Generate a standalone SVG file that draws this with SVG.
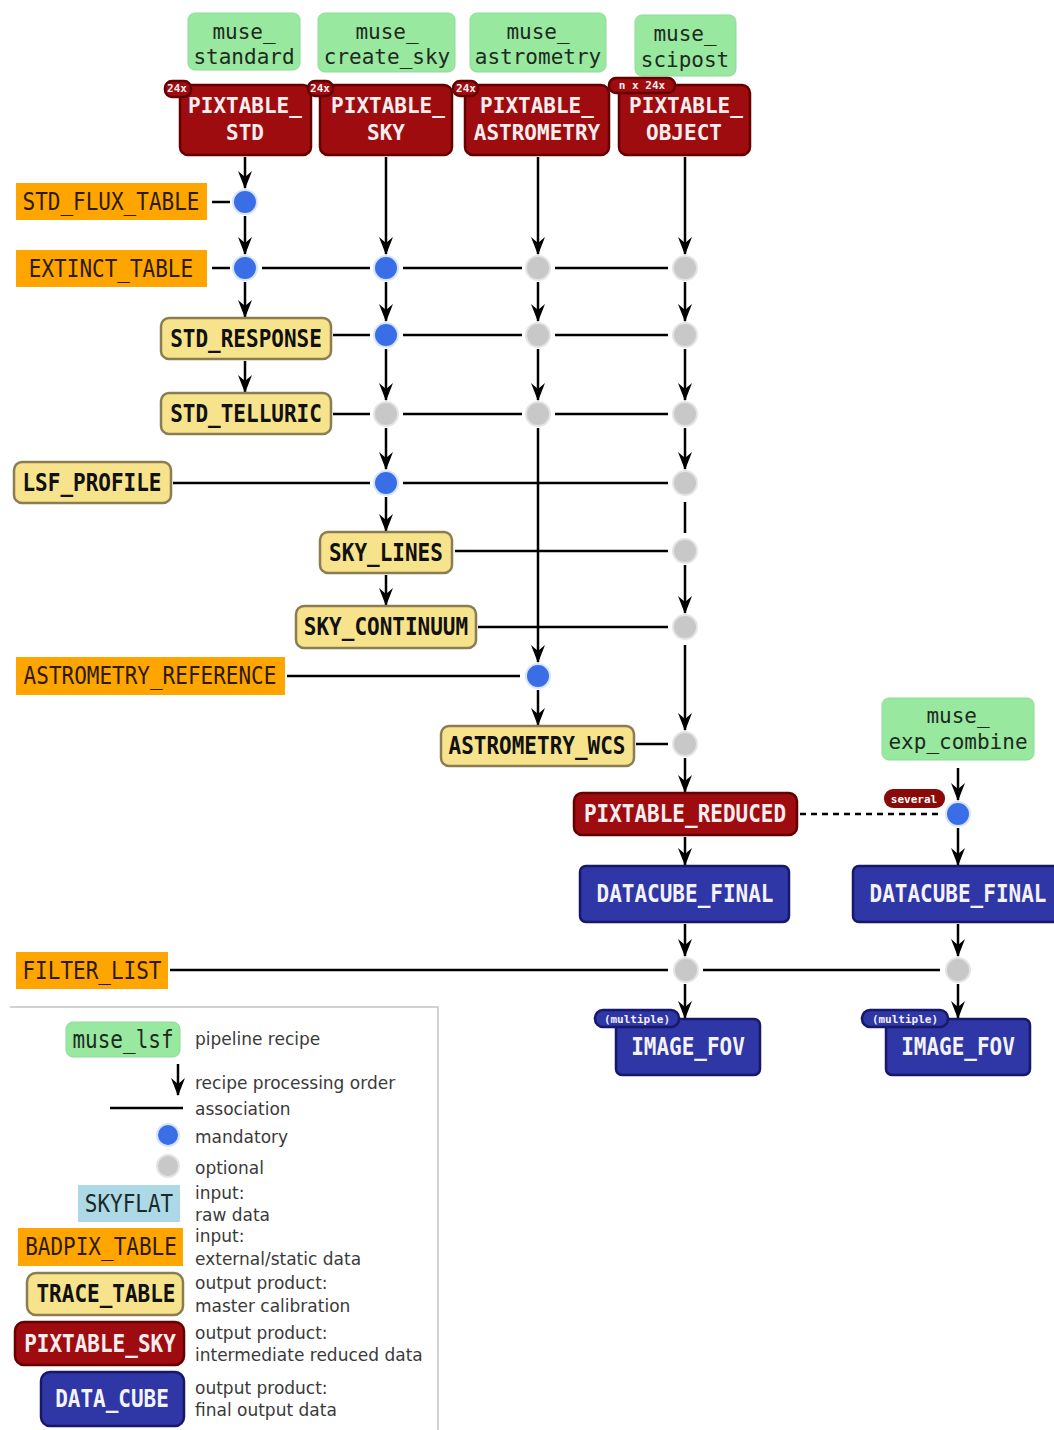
<svg xmlns="http://www.w3.org/2000/svg" width="1054" height="1430" viewBox="0 0 1054 1430">
<defs>
<marker id="arr" viewBox="0 0 18 14" refX="17" refY="7" markerWidth="18" markerHeight="14" markerUnits="userSpaceOnUse" orient="auto">
<path d="M0,0 L18,7 L0,14 L6,7 z" fill="#000"/>
</marker>
<style>
.mono{font-family:"DejaVu Sans Mono","Liberation Mono",monospace;font-size:21px;text-anchor:middle}
.mono > text:not(.badge-t){transform-box:fill-box;transform-origin:center;transform:scaleY(1.17)}
.mono.two > text{transform:none}
.recipe rect{fill:#98e8a0;stroke:#8cdc96;stroke-width:1}
.recipe text{fill:#1e2a1e}
.ext rect{fill:#ffa500}
.ext text{fill:#2e1a00}
.cal rect{fill:#f7e38c;stroke:#8a7d52;stroke-width:2.5}
.cal text{fill:#111;font-weight:bold}
.inter rect{fill:#9e0c10;stroke:#650000;stroke-width:2.5}
.inter text{fill:#f6eeee;font-weight:bold}
.final rect{fill:#2f36a6;stroke:#18186a;stroke-width:2.5}
.final text{fill:#f2f2f8;font-weight:bold}
.raw rect{fill:#add8e6}
.raw text{fill:#1a2a2a}
.badge-r{fill:#8a0a0a}
.badge-b{fill:#2a2e9e;stroke:#16165e;stroke-width:1}
.badge-t{font-family:"DejaVu Sans Mono","Liberation Mono",monospace;font-size:11px;fill:#fff;text-anchor:middle;font-weight:bold}
.flow{stroke:#000;stroke-width:2.5;fill:none;marker-end:url(#arr)}
.assoc{stroke:#000;stroke-width:2.5;fill:none}
.dash{stroke:#000;stroke-width:2.5;fill:none;stroke-dasharray:6,5}
.man{fill:#3a6ee6;stroke:#d6e4ff;stroke-width:2}
.opt{fill:#c8c8c8;stroke:#e4e4e4;stroke-width:2}
.leg{font-family:"DejaVu Sans","Liberation Sans",sans-serif;font-size:17px;fill:#3a3a3a}
</style>
</defs>
<rect width="1054" height="1430" fill="#fff"/>

<!-- connectors -->
<g id="connectors">
<!-- column 1 -->
<line class="flow" x1="245" y1="157" x2="245" y2="188"/>
<line class="flow" x1="245" y1="216" x2="245" y2="254"/>
<line class="flow" x1="245" y1="282" x2="245" y2="317"/>
<line class="flow" x1="245" y1="361" x2="245" y2="392"/>
<!-- column 2 -->
<line class="flow" x1="386" y1="157" x2="386" y2="254"/>
<line class="flow" x1="386" y1="282" x2="386" y2="321"/>
<line class="flow" x1="386" y1="349" x2="386" y2="400"/>
<line class="flow" x1="386" y1="428" x2="386" y2="469"/>
<line class="flow" x1="386" y1="497" x2="386" y2="531"/>
<line class="flow" x1="386" y1="575" x2="386" y2="605"/>
<!-- column 3 -->
<line class="flow" x1="538" y1="157" x2="538" y2="254"/>
<line class="flow" x1="538" y1="282" x2="538" y2="321"/>
<line class="flow" x1="538" y1="349" x2="538" y2="400"/>
<line class="flow" x1="538" y1="428" x2="538" y2="662"/>
<line class="flow" x1="538" y1="690" x2="538" y2="725"/>
<!-- column 4 -->
<line class="flow" x1="685" y1="157" x2="685" y2="254"/>
<line class="flow" x1="685" y1="282" x2="685" y2="321"/>
<line class="flow" x1="685" y1="349" x2="685" y2="400"/>
<line class="flow" x1="685" y1="428" x2="685" y2="469"/>
<line class="assoc" x1="685" y1="502" x2="685" y2="533"/>
<line class="flow" x1="685" y1="565" x2="685" y2="613"/>
<line class="flow" x1="685" y1="645" x2="685" y2="730"/>
<line class="flow" x1="685" y1="758" x2="685" y2="792"/>
<line class="flow" x1="685" y1="837" x2="685" y2="865"/>
<line class="flow" x1="685" y1="924" x2="685" y2="956"/>
<line class="flow" x1="685" y1="984" x2="685" y2="1018"/>
<!-- column 5 -->
<line class="flow" x1="958" y1="768" x2="958" y2="800"/>
<line class="flow" x1="958" y1="828" x2="958" y2="865"/>
<line class="flow" x1="958" y1="924" x2="958" y2="956"/>
<line class="flow" x1="958" y1="984" x2="958" y2="1018"/>
<!-- associations -->
<line class="assoc" x1="212" y1="202" x2="230" y2="202"/>
<line class="assoc" x1="212" y1="268" x2="230" y2="268"/>
<line class="assoc" x1="262" y1="268" x2="370" y2="268"/>
<line class="assoc" x1="403" y1="268" x2="522" y2="268"/>
<line class="assoc" x1="555" y1="268" x2="668" y2="268"/>
<line class="assoc" x1="333" y1="335" x2="370" y2="335"/>
<line class="assoc" x1="403" y1="335" x2="522" y2="335"/>
<line class="assoc" x1="555" y1="335" x2="668" y2="335"/>
<line class="assoc" x1="333" y1="414" x2="370" y2="414"/>
<line class="assoc" x1="403" y1="414" x2="522" y2="414"/>
<line class="assoc" x1="555" y1="414" x2="668" y2="414"/>
<line class="assoc" x1="173" y1="483" x2="370" y2="483"/>
<line class="assoc" x1="403" y1="483" x2="668" y2="483"/>
<line class="assoc" x1="455" y1="551" x2="668" y2="551"/>
<line class="assoc" x1="478" y1="627" x2="668" y2="627"/>
<line class="assoc" x1="287" y1="676" x2="520" y2="676"/>
<line class="assoc" x1="636" y1="744" x2="668" y2="744"/>
<line class="dash" x1="800" y1="814" x2="941" y2="814"/>
<line class="assoc" x1="170" y1="970" x2="668" y2="970"/>
<line class="assoc" x1="703" y1="970" x2="940" y2="970"/>
</g>

<!-- association dots -->
<g id="dots">
<circle class="man" cx="245" cy="202" r="12"/>
<circle class="man" cx="245" cy="268" r="12"/>
<circle class="man" cx="386" cy="268" r="12"/>
<circle class="opt" cx="538" cy="268" r="12"/>
<circle class="opt" cx="685" cy="268" r="12"/>
<circle class="man" cx="386" cy="335" r="12"/>
<circle class="opt" cx="538" cy="335" r="12"/>
<circle class="opt" cx="685" cy="335" r="12"/>
<circle class="opt" cx="386" cy="414" r="12"/>
<circle class="opt" cx="538" cy="414" r="12"/>
<circle class="opt" cx="685" cy="414" r="12"/>
<circle class="man" cx="386" cy="483" r="12"/>
<circle class="opt" cx="685" cy="483" r="12"/>
<circle class="opt" cx="685" cy="551" r="12"/>
<circle class="opt" cx="685" cy="627" r="12"/>
<circle class="man" cx="538" cy="676" r="12"/>
<circle class="opt" cx="685" cy="744" r="12"/>
<circle class="man" cx="958" cy="814" r="12"/>
<circle class="opt" cx="686" cy="970" r="12"/>
<circle class="opt" cx="958" cy="970" r="12"/>
</g>

<!-- recipes -->
<g id="muse_standard" class="recipe mono two"><rect x="188" y="13" width="112" height="57" rx="7"/><text x="244" y="39">muse_</text><text x="244" y="64">standard</text></g>
<g id="muse_create_sky" class="recipe mono two"><rect x="318" y="13" width="137" height="59" rx="7"/><text x="387" y="39">muse_</text><text x="387" y="64">create_sky</text></g>
<g id="muse_astrometry" class="recipe mono two"><rect x="470" y="13" width="136" height="59" rx="7"/><text x="538" y="39">muse_</text><text x="538" y="64">astrometry</text></g>
<g id="muse_scipost" class="recipe mono two"><rect x="635" y="15" width="101" height="61" rx="7"/><text x="685" y="41">muse_</text><text x="685" y="67">scipost</text></g>
<g id="muse_exp_combine" class="recipe mono two"><rect x="882" y="698" width="152" height="62" rx="7"/><text x="958" y="723">muse_</text><text x="958" y="749">exp_combine</text></g>

<!-- pixtables -->
<g id="PIXTABLE_STD" class="inter mono two"><rect x="180" y="85" width="131" height="70" rx="8"/><text x="245" y="113">PIXTABLE_</text><text x="245" y="140">STD</text><rect class="badge-r" x="165" y="81" width="26" height="16" rx="7"/><text class="badge-t" x="177" y="92">24x</text></g>
<g id="PIXTABLE_SKY" class="inter mono two"><rect x="320" y="85" width="132" height="70" rx="8"/><text x="388" y="113">PIXTABLE_</text><text x="386" y="140">SKY</text><rect class="badge-r" x="308" y="81" width="25" height="15" rx="7"/><text class="badge-t" x="320" y="92">24x</text></g>
<g id="PIXTABLE_ASTROMETRY" class="inter mono two"><rect x="465" y="85" width="144" height="70" rx="8"/><text x="537" y="113">PIXTABLE_</text><text x="537" y="140">ASTROMETRY</text><rect class="badge-r" x="453" y="81" width="25" height="15" rx="7"/><text class="badge-t" x="466" y="92">24x</text></g>
<g id="PIXTABLE_OBJECT" class="inter mono two"><rect x="619" y="85" width="131" height="70" rx="8"/><text x="686" y="113">PIXTABLE_</text><text x="684" y="140">OBJECT</text><rect class="badge-r" x="609" y="78" width="66" height="15" rx="7"/><text class="badge-t" x="642" y="89">n x 24x</text></g>

<!-- external inputs -->
<g id="STD_FLUX_TABLE" class="ext mono"><rect x="16" y="183" width="191" height="37"/><text x="111" y="209">STD_FLUX_TABLE</text></g>
<g id="EXTINCT_TABLE" class="ext mono"><rect x="16" y="250" width="191" height="37"/><text x="111" y="276">EXTINCT_TABLE</text></g>
<g id="ASTROMETRY_REFERENCE" class="ext mono"><rect x="16" y="657" width="269" height="38"/><text x="150" y="683">ASTROMETRY_REFERENCE</text></g>
<g id="FILTER_LIST" class="ext mono"><rect x="16" y="952" width="152" height="37"/><text x="92" y="978">FILTER_LIST</text></g>

<!-- calibrations -->
<g id="STD_RESPONSE" class="cal mono"><rect x="161" y="318" width="170" height="41" rx="8"/><text x="246" y="346">STD_RESPONSE</text></g>
<g id="STD_TELLURIC" class="cal mono"><rect x="161" y="393" width="170" height="41" rx="8"/><text x="246" y="421">STD_TELLURIC</text></g>
<g id="LSF_PROFILE" class="cal mono"><rect x="14" y="462" width="157" height="41" rx="8"/><text x="92" y="490">LSF_PROFILE</text></g>
<g id="SKY_LINES" class="cal mono"><rect x="320" y="532" width="132" height="41" rx="8"/><text x="386" y="560">SKY_LINES</text></g>
<g id="SKY_CONTINUUM" class="cal mono"><rect x="296" y="606" width="180" height="42" rx="8"/><text x="386" y="634">SKY_CONTINUUM</text></g>
<g id="ASTROMETRY_WCS" class="cal mono"><rect x="441" y="726" width="193" height="40" rx="8"/><text x="537" y="753">ASTROMETRY_WCS</text></g>

<!-- reduced / final -->
<g id="PIXTABLE_REDUCED" class="inter mono"><rect x="574" y="793" width="223" height="42" rx="8"/><text x="685" y="821">PIXTABLE_REDUCED</text></g>
<g id="several_badge"><rect class="badge-r" x="884" y="789" width="61" height="19" rx="9"/><text class="badge-t" x="914" y="803">several</text></g>
<g id="DATACUBE_FINAL_1" class="final mono"><rect x="580" y="866" width="209" height="56" rx="6"/><text x="685" y="901">DATACUBE_FINAL</text></g>
<g id="DATACUBE_FINAL_2" class="final mono"><rect x="853" y="866" width="212" height="56" rx="6"/><text x="958" y="901">DATACUBE_FINAL</text></g>
<g id="IMAGE_FOV_1" class="final mono"><rect x="616" y="1019" width="144" height="56" rx="6"/><text x="688" y="1054">IMAGE_FOV</text><rect class="badge-b" x="595" y="1010" width="84" height="17" rx="8"/><text class="badge-t" x="637" y="1023">(multiple)</text></g>
<g id="IMAGE_FOV_2" class="final mono"><rect x="886" y="1019" width="144" height="56" rx="6"/><text x="958" y="1054">IMAGE_FOV</text><rect class="badge-b" x="862" y="1010" width="86" height="17" rx="8"/><text class="badge-t" x="905" y="1023">(multiple)</text></g>

<!-- legend -->
<g id="legend">
<path d="M10,1007 H438 V1430" fill="none" stroke="#c4c4c4" stroke-width="1.5"/>
<g id="legend_recipe" class="recipe mono"><rect x="66" y="1022" width="114" height="35" rx="7"/><text x="123" y="1047">muse_lsf</text></g>
<text class="leg" x="195" y="1045">pipeline recipe</text>
<line class="flow" x1="178" y1="1064" x2="178" y2="1095"/>
<text class="leg" x="195" y="1089">recipe processing order</text>
<line class="assoc" x1="110" y1="1108" x2="183" y2="1108"/>
<text class="leg" x="195" y="1115">association</text>
<circle class="man" cx="168" cy="1135" r="11"/>
<text class="leg" x="195" y="1143">mandatory</text>
<circle class="opt" cx="168" cy="1166" r="11"/>
<text class="leg" x="195" y="1174">optional</text>
<g id="legend_SKYFLAT" class="raw mono"><rect x="78" y="1185" width="102" height="37"/><text x="129" y="1211">SKYFLAT</text></g>
<text class="leg" x="195" y="1199">input:</text>
<text class="leg" x="195" y="1221">raw data</text>
<g id="legend_BADPIX_TABLE" class="ext mono"><rect x="18" y="1228" width="165" height="38"/><text x="101" y="1254">BADPIX_TABLE</text></g>
<text class="leg" x="195" y="1242">input:</text>
<text class="leg" x="195" y="1265">external/static data</text>
<g id="legend_TRACE_TABLE" class="cal mono"><rect x="27" y="1273" width="156" height="42" rx="9"/><text x="106" y="1301">TRACE_TABLE</text></g>
<text class="leg" x="195" y="1289">output product:</text>
<text class="leg" x="195" y="1312">master calibration</text>
<g id="legend_PIXTABLE_SKY" class="inter mono"><rect x="15" y="1322" width="169" height="43" rx="9"/><text x="100" y="1351">PIXTABLE_SKY</text></g>
<text class="leg" x="195" y="1339">output product:</text>
<text class="leg" x="195" y="1361">intermediate reduced data</text>
<g id="legend_DATA_CUBE" class="final mono"><rect x="41" y="1372" width="143" height="54" rx="9"/><text x="112" y="1406">DATA_CUBE</text></g>
<text class="leg" x="195" y="1394">output product:</text>
<text class="leg" x="195" y="1416">final output data</text>
</g>
</svg>
